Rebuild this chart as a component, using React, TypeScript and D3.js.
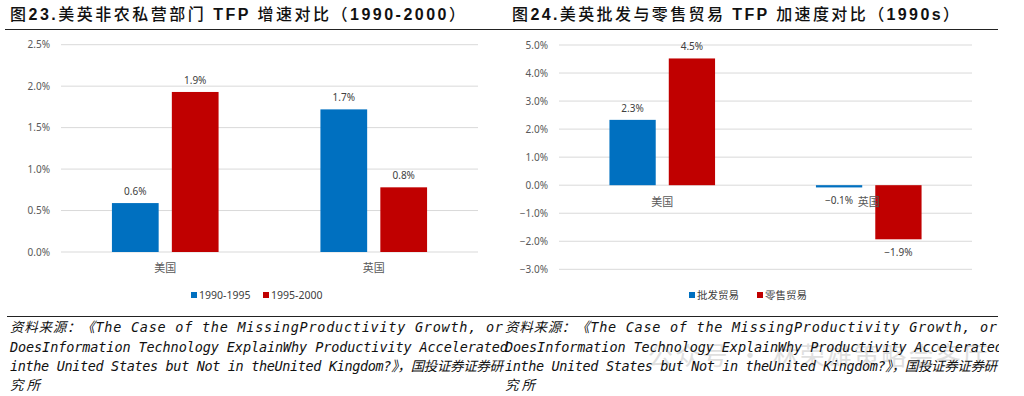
import React from "react";
import * as d3 from "d3";

const categories = ["美国", "英国"];

// Chart 23: non-farm private sector TFP growth
const leftSeries = ["1990-1995", "1995-2000"];
const left1990_1995 = [0.0059, 0.0172];
const left1995_2000 = [0.0193, 0.0078];
const leftTicks = [0, 0.005, 0.01, 0.015, 0.02, 0.025];

// Chart 24: wholesale & retail TFP acceleration
const rightSeries = ["批发贸易", "零售贸易"];
const rightWholesale = [0.0233, -0.0008];
const rightRetail = [0.0452, -0.0193];
const rightTicks = [-0.03, -0.02, -0.01, 0, 0.01, 0.02, 0.03, 0.04, 0.05];

const colors = ["#0070C0", "#C00000"];

const titleLeft = ["图", "23.", "美英非农私营部门", " TFP ", "增速对比", "（", "1990-2000", "）"];
const titleRight = ["图", "24.", "美英批发与零售贸易", " TFP ", "加速度对比", "（", "1990s", "）"];

const footerLines = [
  "资料来源：《The Case of the MissingProductivity Growth, or",
  "DoesInformation Technology ExplainWhy Productivity Accelerated",
  "inthe United States but Not in theUnited Kingdom?》，国投证券证券研",
  "究所",
];

const fmt = d3.format(".1%");
const CJK = "'Noto Sans CJK SC', sans-serif";
const LAT = "'Noto Sans', 'Open Sans', sans-serif";

type ChartProps = {
  x0: number;
  x1: number;
  yTop: number;
  yBottom: number;
  domain: [number, number];
  ticks: number[];
  series: string[];
  values: number[][];
  tickX: number;
  catLabelY: number | null;
  legendY: number;
  legendX: number;
  legendGap: number;
};

function BarChart(p: ChartProps) {
  const y = d3.scaleLinear().domain(p.domain).range([p.yBottom, p.yTop]);
  const xb = d3.scaleBand<string>().domain(categories).range([p.x0, p.x1]).padding(0);
  const xs = d3
    .scaleBand<string>()
    .domain(p.series)
    .range([0, xb.bandwidth()])
    .paddingInner(0.22)
    .paddingOuter(0.85);
  const zero = y(0);
  const bars: React.ReactNode[] = [];
  const labels: React.ReactNode[] = [];
  p.series.forEach((s, si) => {
    categories.forEach((c, ci) => {
      const v = p.values[si][ci];
      const bx = (xb(c) as number) + (xs(s) as number);
      const top = Math.min(y(v), zero);
      const h = Math.abs(y(v) - zero);
      bars.push(
        <rect key={`b-${s}-${c}`} x={bx} y={top} width={xs.bandwidth()} height={Math.max(h, 1)} fill={colors[si]} />
      );
      const ly = v >= 0 ? y(v) - 8 : y(v) + 17;
      labels.push(
        <text
          key={`l-${s}-${c}`}
          x={bx + xs.bandwidth() / 2}
          y={ly}
          textAnchor="middle"
          fontFamily={LAT}
          fontSize={10}
          fill="#404040"
        >
          {fmt(v)}
        </text>
      );
    });
  });
  return (
    <g>
      {p.ticks.map((t) => (
        <g key={t}>
          <line x1={p.x0} x2={p.x1} y1={y(t)} y2={y(t)} stroke="#D9D9D9" strokeWidth={1} />
          <text x={p.tickX} y={y(t) + 3.5} textAnchor="end" fontFamily={LAT} fontSize={10} fill="#595959">
            {fmt(t)}
          </text>
        </g>
      ))}
      {bars}
      {categories.map((c) => (
        <text
          key={c}
          x={(xb(c) as number) + xb.bandwidth() / 2}
          y={p.catLabelY === null ? zero + 21 : p.catLabelY}
          textAnchor="middle"
          fontFamily={CJK}
          fontSize={11}
          fill="#595959"
        >
          {c}
        </text>
      ))}
      {labels}
      {p.series.map((s, si) => {
        const lx = p.legendX + si * p.legendGap;
        return (
          <g key={s}>
            <rect x={lx} y={p.legendY - 3} width={6} height={6} fill={colors[si]} />
            <text x={lx + 8} y={p.legendY + 4} fontFamily={`${LAT.split(",")[0]}, ${CJK}`} fontSize={10.5} fill="#404040">
              {s}
            </text>
          </g>
        );
      })}
    </g>
  );
}

function Title({ parts, x, width }: { parts: string[]; x: number; width: number }) {
  return (
    <text x={x} y={20} fontSize={16} textLength={width} lengthAdjust="spacing" fill="#111">
      {parts.map((t, i) => {
        const latin = /^[0-9A-Za-z.\- ]+$/.test(t);
        return (
          <tspan
            key={i}
            fontFamily={latin ? "'Liberation Sans', Arial, sans-serif" : CJK}
            fontWeight={latin ? 700 : 500}
          >
            {t}
          </tspan>
        );
      })}
    </text>
  );
}

function Footer({ x, widths, clip }: { x: number; widths: number[]; clip?: string }) {
  const ys = [332, 351.5, 371, 390];
  return (
    <g clipPath={clip}>
      {footerLines.map((line, i) => (
        <text
          key={i}
          x={x}
          y={ys[i]}
          fontFamily={`'DejaVu Sans Mono', ${CJK}`}
          fontStyle="italic"
          fontSize={13.5}
          fill="#111"
          textLength={widths[i]}
          lengthAdjust="spacing"
        >
          {line}
        </text>
      ))}
    </g>
  );
}

export default function App() {
  return (
    <svg
      width={1024}
      height={396}
      style={{ position: "absolute", left: 0, top: 0, background: "#fff" }}
    >
      <defs>
        <clipPath id="rightclip">
          <rect x={0} y={300} width={999} height={96} />
        </clipPath>
      </defs>
      <rect x={0} y={0} width={1024} height={396} fill="#fff" />
      <Title parts={titleLeft} x={10} width={455} />
      <Title parts={titleRight} x={512} width={447} />
      <line x1={5} x2={998} y1={29.5} y2={29.5} stroke="#222" strokeWidth={1} />

      <BarChart
        x0={61}
        x1={478}
        yTop={44.7}
        yBottom={252}
        domain={[0, 0.025]}
        ticks={leftTicks}
        series={leftSeries}
        values={[left1990_1995, left1995_2000]}
        tickX={50}
        catLabelY={272}
        legendY={295}
        legendX={191}
        legendGap={72}
      />
      <BarChart
        x0={559}
        x1={972}
        yTop={45}
        yBottom={269.3}
        domain={[-0.03, 0.05]}
        ticks={rightTicks}
        series={rightSeries}
        values={[rightWholesale, rightRetail]}
        tickX={548}
        catLabelY={null}
        legendY={295}
        legendX={689}
        legendGap={68}
      />

      <line x1={7} x2={998} y1={316.5} y2={316.5} stroke="#222" strokeWidth={1} />
      <text
        x={648}
        y={365}
        fontFamily={CJK}
        fontSize={25}
        fill="#b0b0b0"
        opacity={0.4}
        textLength={340}
        lengthAdjust="spacing"
      >
        公众号 · 林荣雄策略会客厅
      </text>
      <Footer x={10} widths={[493, 498, 493, 30]} />
      <Footer x={505} widths={[492, 498, 492, 30]} clip="url(#rightclip)" />
    </svg>
  );
}
